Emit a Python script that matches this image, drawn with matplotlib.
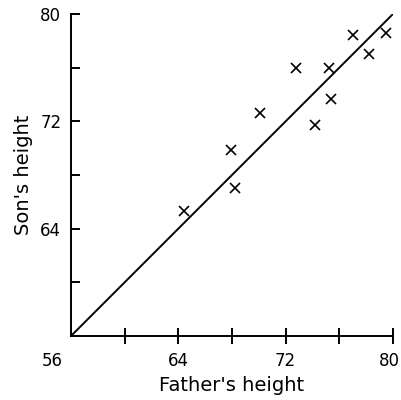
import matplotlib
matplotlib.use("Agg")
from matplotlib import pyplot as plt
from matplotlib.transforms import ScaledTranslation

# heights (inches)
father = [64.4, 67.9, 68.2, 70.1, 72.8, 74.2, 75.2, 75.4, 77.0, 78.2, 79.5]
son = [65.3, 69.9, 67.0, 72.6, 76.0, 71.7, 76.0, 73.7, 78.4, 77.0, 78.6]
line_x = [56, 80]
line_y = [56, 80]

x_major = [56, 64, 72, 80]
x_minor = [60, 68, 76]
y_major = [64, 72, 80]
y_minor = [60, 68, 76]

fig = plt.figure(figsize=(4.01, 4.0), dpi=100)
ax = fig.add_axes([0.177, 0.16, 0.803, 0.805])

ax.plot(line_x, line_y, color="black", lw=1.4)
ax.plot(father, son, linestyle="none", marker="x", color="black", ms=7, mew=1.2)

ax.set_xlim(56, 80)
ax.set_ylim(56, 80)
for side in ("top", "right"):
    ax.spines[side].set_visible(False)
for side in ("left", "bottom"):
    ax.spines[side].set_linewidth(1.4)

ax.set_xticks(x_major)
ax.set_xticks(x_minor, minor=True)
ax.set_yticks(y_major)
ax.set_yticks(y_minor, minor=True)
ax.tick_params(axis="x", which="both", direction="inout", length=11, width=1.4,
               labelsize=12, pad=6)
ax.tick_params(axis="y", which="both", direction="in", length=6.5, width=1.4,
               labelsize=12, pad=7)

# no tick mark at the origin, and its label sits left of the corner
ticks = ax.xaxis.get_major_ticks()
ticks[0].tick1line.set_visible(False)
ticks[0].label1.set_transform(ticks[0].label1.get_transform()
                              + ScaledTranslation(-19 / 100, 0, fig.dpi_scale_trans))
# last label pulled in so it stays inside the picture
ticks[-1].label1.set_transform(ticks[-1].label1.get_transform()
                               + ScaledTranslation(-4 / 100, 0, fig.dpi_scale_trans))

ax.set_xlabel("Father's height", fontsize=14, labelpad=4)
ax.set_ylabel("Son's height", fontsize=14, labelpad=5)

fig.savefig("out.png", dpi=100)
